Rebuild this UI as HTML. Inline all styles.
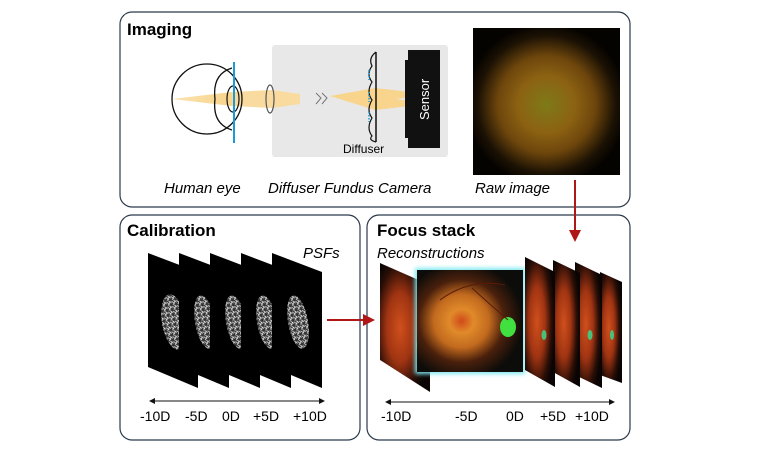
<!DOCTYPE html>
<html><head><meta charset="utf-8"><style>
html,body{margin:0;padding:0;background:#fff;}
svg{display:block;font-family:"Liberation Sans",Arial,sans-serif;}
</style></head><body>
<svg width="768" height="461" viewBox="0 0 768 461" xmlns="http://www.w3.org/2000/svg">
<defs>
<radialGradient id="raw" cx="50%" cy="52%" r="55%">
<stop offset="0" stop-color="#7e7a18"/><stop offset="0.35" stop-color="#8c6212"/><stop offset="0.6" stop-color="#6e460c"/><stop offset="0.85" stop-color="#1c1204"/><stop offset="1" stop-color="#050300"/>
</radialGradient>
<radialGradient id="fund" cx="42%" cy="50%" r="58%">
<stop offset="0" stop-color="#d04a1a"/><stop offset="0.2" stop-color="#e08a2a"/><stop offset="0.45" stop-color="#c26a1e"/><stop offset="0.7" stop-color="#4a200c"/><stop offset="1" stop-color="#0c0c0a"/>
</radialGradient>
<radialGradient id="blur" cx="40%" cy="50%" r="60%">
<stop offset="0" stop-color="#d0501c"/><stop offset="0.45" stop-color="#a03412"/><stop offset="0.8" stop-color="#2a0e06"/><stop offset="1" stop-color="#0a0504"/>
</radialGradient>
<linearGradient id="beam" x1="0" x2="1"><stop offset="0" stop-color="#fbe3b0"/><stop offset="1" stop-color="#f8d48c"/></linearGradient>
<pattern id="spk" width="5" height="5" patternUnits="userSpaceOnUse"><rect width="5" height="5" fill="#333"/><path d="M0 1L3 4M2 0L5 3M4 1L1 5" stroke="#eee" stroke-width="0.7"/></pattern>
<marker id="ah" markerWidth="6" markerHeight="6" refX="5" refY="3" orient="auto"><path d="M0 0L6 3L0 6z" fill="#b01818"/></marker>
<marker id="bk" markerWidth="6" markerHeight="6" refX="5" refY="3" orient="auto-start-reverse"><path d="M0 0L6 3L0 6z" fill="#111"/></marker>
<filter id="glow"><feGaussianBlur stdDeviation="2"/></filter>
</defs>

<rect x="120" y="12" width="510" height="195" rx="12" fill="#fff" stroke="#2a3a4a" stroke-width="1.2"/>
<rect x="120" y="215" width="240" height="225" rx="12" fill="#fff" stroke="#2a3a4a" stroke-width="1.2"/>
<rect x="367" y="215" width="263" height="225" rx="12" fill="#fff" stroke="#2a3a4a" stroke-width="1.2"/>

<text x="127" y="35" font-size="17" font-weight="bold">Imaging</text>
<rect x="272" y="45" width="176" height="112" rx="3" fill="#e8e8e8"/>
<polygon points="172,99 232,92 232,106" fill="url(#beam)"/>
<polygon points="232,92 272,90 272,108 232,106" fill="#f9dba0"/>
<polygon points="272,90 300,94 300,104 272,108" fill="#f9dba0"/>
<polygon points="330,96 375,88 375,110" fill="#f8d48c"/>
<polygon points="375,88 410,92 410,97 375,102" fill="#f8d48c"/>
<polygon points="375,96 410,101 410,106 375,110" fill="#f8d48c"/>
<circle cx="207" cy="99" r="35" fill="none" stroke="#111" stroke-width="1.3"/>
<path d="M232 68 Q212 74 215 99 Q212 124 232 130" fill="none" stroke="#111" stroke-width="1.3"/>
<ellipse cx="233" cy="99" rx="6" ry="13" fill="none" stroke="#111" stroke-width="1.2"/>
<line x1="234" y1="62" x2="234" y2="143" stroke="#1a9ad6" stroke-width="2"/>
<ellipse cx="270" cy="99" rx="4" ry="14" fill="none" stroke="#555" stroke-width="1.2"/>
<path d="M316 93 L321 98 L316 104 M322 93 L327 98 L322 104" fill="none" stroke="#777" stroke-width="1"/>
<path d="M376 52 Q368 58 372 66 Q366 74 372 82 Q366 92 372 100 Q366 110 372 118 Q366 128 372 136 Q368 140 376 142" fill="none" stroke="#111" stroke-width="1.2"/>
<line x1="376" y1="52" x2="376" y2="142" stroke="#111" stroke-width="1.5"/>
<path d="M369 70 v10 M369 92 v10 M369 112 v10" stroke="#1a9ad6" stroke-width="1.5" stroke-dasharray="1.5 1.5"/>
<text x="343" y="153" font-size="12">Diffuser</text>
<path d="M408 50 H440 V148 H408 V138 H405 V60 H408 Z" fill="#111"/>
<text transform="translate(429,120) rotate(-90)" font-size="13" fill="#fff">Sensor</text>
<rect x="473" y="28" width="147" height="147" fill="url(#raw)"/>
<g font-size="15" font-style="italic">
<text x="164" y="193">Human eye</text>
<text x="268" y="193">Diffuser Fundus Camera</text>
<text x="475" y="193">Raw image</text>
</g>
<line x1="575" y1="180" x2="575" y2="240" stroke="#b01818" stroke-width="2" marker-end="url(#ah)"/>

<text x="127" y="236" font-size="17" font-weight="bold">Calibration</text>
<text x="303" y="258" font-size="15" font-style="italic">PSFs</text>
<g>
<g><polygon points="148,253 198,272 198,388 148,367" fill="#000"/><ellipse cx="174" cy="322" rx="12" ry="28" transform="rotate(-10 174 322)" fill="url(#spk)"/></g>
<g transform="translate(31,0)"><polygon points="148,253 198,272 198,388 148,367" fill="#000"/><ellipse cx="174" cy="322" rx="10" ry="27" transform="rotate(-10 174 322)" fill="url(#spk)"/></g>
<g transform="translate(62,0)"><polygon points="148,253 198,272 198,388 148,367" fill="#000"/><ellipse cx="174" cy="322" rx="10" ry="27" transform="rotate(-10 174 322)" fill="url(#spk)"/></g>
<g transform="translate(93,0)"><polygon points="148,253 198,272 198,388 148,367" fill="#000"/><ellipse cx="174" cy="322" rx="10" ry="27" transform="rotate(-10 174 322)" fill="url(#spk)"/></g>
<g transform="translate(124,0)"><polygon points="148,253 198,272 198,388 148,367" fill="#000"/><ellipse cx="174" cy="322" rx="10" ry="27" transform="rotate(-10 174 322)" fill="url(#spk)"/></g>
</g>
<line x1="150" y1="401" x2="324" y2="401" stroke="#111" stroke-width="1" marker-start="url(#bk)" marker-end="url(#bk)"/>
<g font-size="14">
<text x="140" y="421">-10D</text><text x="185" y="421">-5D</text><text x="222" y="421">0D</text><text x="253" y="421">+5D</text><text x="293" y="421">+10D</text>
</g>
<line x1="327" y1="320" x2="373" y2="320" stroke="#b01818" stroke-width="2" marker-end="url(#ah)"/>

<text x="377" y="236" font-size="17" font-weight="bold">Focus stack</text>
<text x="377" y="258" font-size="15" font-style="italic">Reconstructions</text>
<polygon points="380,263 430,285 430,392 380,360" fill="url(#blur)"/>
<ellipse cx="419" cy="345" rx="3" ry="6" fill="#3c8a30"/>
<rect x="415" y="268" width="110" height="106" fill="#7fe8f0" filter="url(#glow)"/>
<rect x="417" y="270" width="106" height="102" fill="url(#fund)"/>
<ellipse cx="508" cy="327" rx="8" ry="10" fill="#40e040"/>
<path d="M505 285 Q470 278 440 300 M508 320 Q485 300 472 288" stroke="#5a1a08" stroke-width="1" fill="none"/>
<polygon points="600,272 622,282 622,383 600,375" fill="url(#blur)"/>
<polygon points="575,262 602,275 602,388 575,375" fill="url(#blur)"/>
<polygon points="553,260 580,273 580,387 553,372" fill="url(#blur)"/>
<polygon points="525,257 555,272 555,387 525,370" fill="url(#blur)"/>
<ellipse cx="544" cy="335" rx="2.5" ry="5" fill="#4ac07a"/>
<ellipse cx="590" cy="335" rx="2.5" ry="5" fill="#4ac07a"/>
<ellipse cx="612" cy="335" rx="2" ry="5" fill="#4ac07a"/>
<line x1="386" y1="402" x2="614" y2="402" stroke="#111" stroke-width="1" marker-start="url(#bk)" marker-end="url(#bk)"/>
<g font-size="14">
<text x="381" y="421">-10D</text><text x="455" y="421">-5D</text><text x="506" y="421">0D</text><text x="540" y="421">+5D</text><text x="575" y="421">+10D</text>
</g>
</svg>
</body></html>
